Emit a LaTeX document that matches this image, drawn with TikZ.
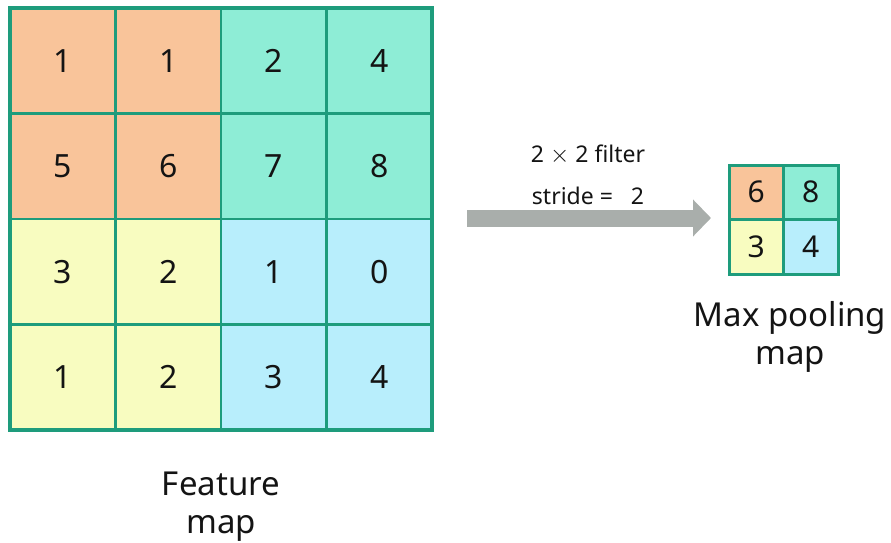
\documentclass[tikz,border=0pt]{standalone}
\usepackage{fontspec}
\setmainfont{Noto Sans}
\usetikzlibrary{arrows.meta}
\definecolor{gridline}{HTML}{1E9C7C}
\definecolor{cOrange}{HTML}{F9C49A}
\definecolor{cTeal}{HTML}{8EEDD6}
\definecolor{cYellow}{HTML}{F8FCC0}
\definecolor{cBlue}{HTML}{B8EEFC}
\definecolor{arrowgray}{HTML}{A9AEAB}
\definecolor{ink}{HTML}{141414}
\begin{document}
\begin{tikzpicture}[x=1pt,y=-1pt,
  bigcell/.style={draw=gridline,line width=2.5pt,minimum size=105.5pt,inner sep=0pt,
    text=ink,font=\fontsize{32}{32}\selectfont},
  smallcell/.style={draw=gridline,line width=2.5pt,minimum size=54.5pt,inner sep=0pt,
    text=ink,font=\fontsize{30}{30}\selectfont},
  frame/.style={draw=gridline,line width=3.5pt,inner sep=0pt},
  caption/.style={text=ink,align=center,font=\fontsize{33}{38}\selectfont},
  note/.style={text=ink,font=\fontsize{23}{23}\selectfont},
  flow/.style={draw=arrowgray,line width=17pt,-{Triangle[length=18pt,width=36pt]}}]
\useasboundingbox (0,0) rectangle (891,543);

% feature map, 4x4 cells
\foreach \v/\c [count=\i from 0] in {1/cOrange,1/cOrange,2/cTeal,4/cTeal,
                                     5/cOrange,6/cOrange,7/cTeal,8/cTeal,
                                     3/cYellow,2/cYellow,1/cBlue,0/cBlue,
                                     1/cYellow,2/cYellow,3/cBlue,4/cBlue}{
  \pgfmathtruncatemacro{\r}{int(\i/4)}
  \pgfmathtruncatemacro{\k}{mod(\i,4)}
  \node[bigcell,fill=\c] (f\r\k) at ({10+52.75+105.5*\k},{8+52.75+105.5*\r}) {\v};
}
\node[frame,minimum width=422pt,minimum height=422pt] (fmap) at (221,219) {};

% pooled map, 2x2 cells
\foreach \v/\c [count=\i from 0] in {6/cOrange,8/cTeal,3/cYellow,4/cBlue}{
  \pgfmathtruncatemacro{\r}{int(\i/2)}
  \pgfmathtruncatemacro{\k}{mod(\i,2)}
  \node[smallcell,fill=\c] (p\r\k) at ({729+27.25+54.5*\k},{165+27.25+54.5*\r}) {\v};
}
\node[frame,line width=3pt,minimum width=109pt,minimum height=109pt] (pmap) at (783.5,219.5) {};

% captions
\node[caption] (fcap) at (221,507) {Feature\\map};
\node[caption] (pcap) at (790,337) {Max pooling\\map};

% pooling arrow and its parameters
\coordinate (astart) at (467,218);
\coordinate (aend) at (711,218);
\draw[flow] (astart) -- (aend);
\node[note] (filt) at (588,155) {2 $\times$ 2 filter};
\node[note] (strd) at (588,196) {stride =\ \ \ 2};
\end{tikzpicture}
\end{document}
